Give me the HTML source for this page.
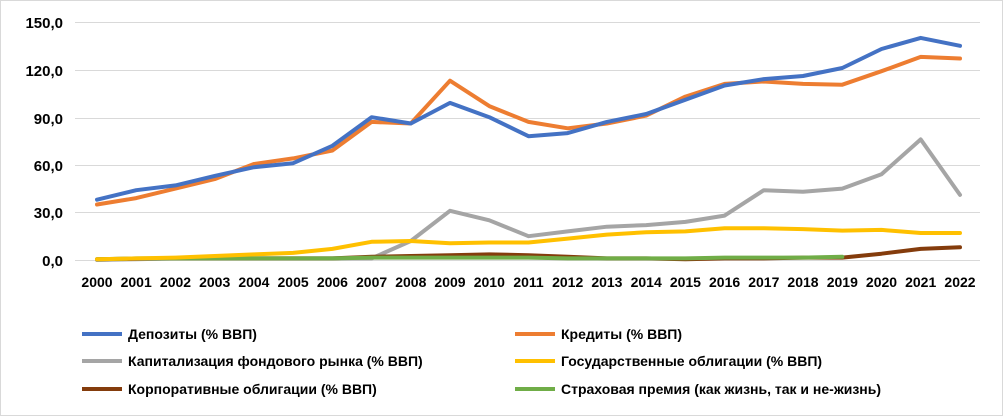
<!DOCTYPE html>
<html><head><meta charset="utf-8"><style>
body{margin:0;background:#fff}
svg{display:block;font-family:"Liberation Sans",sans-serif;font-weight:bold}
</style></head><body>
<svg width="1003" height="416" xmlns="http://www.w3.org/2000/svg">
<rect x="0.5" y="0.5" width="1002" height="415" fill="#fff" stroke="#d9d9d9"/>
<g stroke="#d9d9d9" stroke-width="1">
<line x1="75" x2="980" y1="22.5" y2="22.5"/><line x1="75" x2="980" y1="70.5" y2="70.5"/>
<line x1="75" x2="980" y1="118.5" y2="118.5"/><line x1="75" x2="980" y1="165.5" y2="165.5"/>
<line x1="75" x2="980" y1="212.5" y2="212.5"/><line x1="75" x2="980" y1="260.5" y2="260.5"/>
</g>
<g font-size="15" text-anchor="end" fill="#000">
<text x="63" y="28">150,0</text><text x="63" y="76">120,0</text><text x="63" y="124">90,0</text>
<text x="63" y="171">60,0</text><text x="63" y="218">30,0</text><text x="63" y="266">0,0</text>
</g>
<g font-size="14" text-anchor="middle" fill="#000">
<text x="97" y="287">2000</text><text x="136.2" y="287">2001</text><text x="175.5" y="287">2002</text><text x="214.7" y="287">2003</text><text x="253.9" y="287">2004</text><text x="293.1" y="287">2005</text><text x="332.4" y="287">2006</text><text x="371.6" y="287">2007</text><text x="410.8" y="287">2008</text><text x="450" y="287">2009</text><text x="489.3" y="287">2010</text><text x="528.5" y="287">2011</text><text x="567.7" y="287">2012</text><text x="606.9" y="287">2013</text><text x="646.2" y="287">2014</text><text x="685.4" y="287">2015</text><text x="724.6" y="287">2016</text><text x="763.8" y="287">2017</text><text x="803" y="287">2018</text><text x="842.3" y="287">2019</text><text x="881.5" y="287">2020</text><text x="920.7" y="287">2021</text><text x="960" y="287">2022</text>
</g>
<g fill="none" stroke-width="4" stroke-linejoin="round" stroke-linecap="round">
<polyline stroke="#a5a5a5" points="97,260 136.2,259.2 175.5,258.4 214.7,258.4 253.9,258.4 293.1,258.4 332.4,258.4 371.6,258.4 410.8,241 450,210.8 489.3,220.3 528.5,236.2 567.7,231.4 606.9,226.7 646.2,225.1 685.4,221.9 724.6,215.6 763.8,190.2 803,191.8 842.3,188.6 881.5,174.3 920.7,139.4 960,194.9"/>
<polyline stroke="#843c0c" points="97,259.2 136.2,258.7 175.5,258.4 214.7,258.4 253.9,258.4 293.1,258.4 332.4,258.4 371.6,256.8 410.8,256 450,255.2 489.3,254.4 528.5,255.2 567.7,256.8 606.9,258.4 646.2,258.4 685.4,259.2 724.6,258.4 763.8,258.4 803,257.6 842.3,257.6 881.5,253.7 920.7,248.9 960,247.3"/>
<polyline stroke="#70ad47" points="97,259.2 136.2,258.4 175.5,258.4 214.7,258.4 253.9,258.4 293.1,258.4 332.4,258.4 371.6,257.6 410.8,257.6 450,257.6 489.3,257.6 528.5,257.6 567.7,258.4 606.9,258.4 646.2,258.4 685.4,258.4 724.6,257.6 763.8,257.6 803,257.6 842.3,256.8"/>
<polyline stroke="#ffc000" points="97,259.2 136.2,258.4 175.5,257.6 214.7,256 253.9,254.4 293.1,252.9 332.4,248.9 371.6,241.8 410.8,241 450,243.3 489.3,242.5 528.5,242.5 567.7,238.6 606.9,234.6 646.2,232.2 685.4,231.4 724.6,228.3 763.8,228.3 803,229.1 842.3,230.6 881.5,229.9 920.7,233 960,233"/>
<polyline stroke="#ed7d31" points="97,204.5 136.2,198.1 175.5,188.6 214.7,179.1 253.9,164 293.1,158.4 332.4,150.5 371.6,121.9 410.8,123.5 450,80.7 489.3,106.1 528.5,121.9 567.7,128.3 606.9,123.5 646.2,115.6 685.4,96.6 724.6,83.9 763.8,81.5 803,83.9 842.3,84.7 881.5,71.2 920.7,56.9 960,58.5"/>
<polyline stroke="#4472c4" points="97,199.7 136.2,190.2 175.5,185.4 214.7,175.9 253.9,167.2 293.1,163.2 332.4,145.8 371.6,117.2 410.8,123.5 450,102.9 489.3,117.2 528.5,136.2 567.7,133.1 606.9,121.9 646.2,114 685.4,99.7 724.6,85.5 763.8,79.1 803,76 842.3,68 881.5,49 920.7,37.9 960,45.8"/>
</g>
<g font-size="14" fill="#000">
<line x1="82" x2="122" y1="334" y2="334" stroke="#4472c4" stroke-width="4"/><text x="128" y="339">Депозиты (% ВВП)</text>
<line x1="515" x2="555" y1="334" y2="334" stroke="#ed7d31" stroke-width="4"/><text x="561" y="339">Кредиты (% ВВП)</text>
<line x1="82" x2="122" y1="361" y2="361" stroke="#a5a5a5" stroke-width="4"/><text x="128" y="366">Капитализация фондового рынка (% ВВП)</text>
<line x1="515" x2="555" y1="361" y2="361" stroke="#ffc000" stroke-width="4"/><text x="561" y="366">Государственные облигации (% ВВП)</text>
<line x1="82" x2="122" y1="389" y2="389" stroke="#843c0c" stroke-width="4"/><text x="128" y="394">Корпоративные облигации (% ВВП)</text>
<line x1="515" x2="555" y1="389" y2="389" stroke="#70ad47" stroke-width="4"/><text x="561" y="394">Страховая премия (как жизнь, так и не-жизнь)</text>
</g>
</svg>
</body></html>
